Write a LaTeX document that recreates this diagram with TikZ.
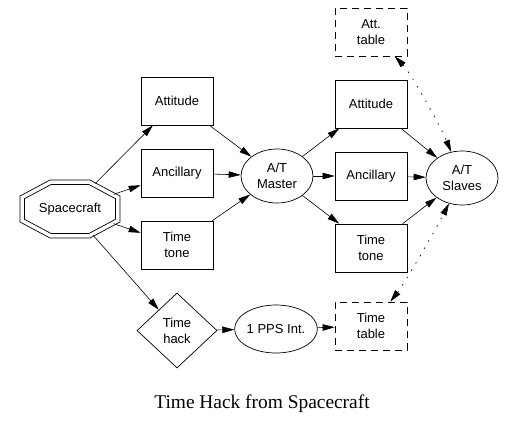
\documentclass[tikz,border=0pt]{standalone}
\usepackage{fontspec}
\setmainfont{Liberation Serif}
\newfontfamily\arialf{Liberation Sans}
\usetikzlibrary{shapes.geometric,arrows.meta}
\begin{document}
\begin{tikzpicture}[x=1pt,y=-1pt,
  lbl/.style={font=\arialf\fontsize{13}{16}\selectfont, align=center, inner sep=0pt, line width=0.7pt},
  box/.style={lbl, draw, minimum width=72pt, minimum height=48pt},
  dbox/.style={box, dash pattern=on 7pt off 5pt},
  oval/.style={lbl, draw, ellipse, minimum width=72pt, minimum height=54pt},
  dia/.style={lbl, draw, diamond, minimum width=80pt, minimum height=75pt},
  octo/.style={lbl, ellipse, minimum width=100pt, minimum height=58pt},
  edge/.style={-{Triangle[length=12pt,width=6.5pt]}, line width=0.6pt},
  dedge/.style={{Triangle[length=12pt,width=6.5pt]}-{Triangle[length=12pt,width=6.5pt]}, line width=0.7pt, dash pattern=on 1.5pt off 7pt}
]
\useasboundingbox (0,0) rectangle (516,425);

\node[dbox] (atttab) at (371,32) {Att.\\table};
\node[box] (att1) at (177,101) {Attitude};
\node[box] (anc1) at (177,173) {Ancillary};
\node[box] (tt1) at (177,245) {Time\\tone};
\node[octo] (sc) at (70,209) {Spacecraft};
\node[oval] (master) at (277,176) {A/T\\Master};
\node[box] (att2) at (371,104) {Attitude};
\node[box] (anc2) at (371,176) {Ancillary};
\node[box] (tt2) at (371,248) {Time\\tone};
\node[oval] (slaves) at (462,178) {A/T\\Slaves};
\node[dbox] (timetab) at (371,326) {Time\\table};
\node[dia] (hack) at (177,330.5) {Time\\hack};
\node[oval, minimum width=76pt, minimum height=48pt] (pps) at (276,329) {1 PPS Int.};

% double octagon
\draw[line width=0.7pt] ([shift={(-20,-29)}]sc.center) -- ([shift={(20,-29)}]sc.center) -- ([shift={(50,-13)}]sc.center) -- ([shift={(50,13)}]sc.center) -- ([shift={(20,29)}]sc.center) -- ([shift={(-20,29)}]sc.center) -- ([shift={(-50,13)}]sc.center) -- ([shift={(-50,-13)}]sc.center) -- cycle;
\draw[line width=0.7pt] ([shift={(-18.9,-24.5)}]sc.center) -- ([shift={(18.9,-24.5)}]sc.center) -- ([shift={(45.5,-10.3)}]sc.center) -- ([shift={(45.5,10.3)}]sc.center) -- ([shift={(18.9,24.5)}]sc.center) -- ([shift={(-18.9,24.5)}]sc.center) -- ([shift={(-45.5,10.3)}]sc.center) -- ([shift={(-45.5,-10.3)}]sc.center) -- cycle;

\draw[edge] (sc) -- (att1);
\draw[edge] (sc) -- (anc1);
\draw[edge] (sc) -- (tt1);
\draw[edge] (sc) -- (hack);
\draw[edge] (att1) -- (master);
\draw[edge] (anc1) -- (master);
\draw[edge] (tt1) -- (master);
\draw[edge] (master) -- (att2);
\draw[edge] (master) -- (anc2);
\draw[edge] (master) -- (tt2);
\draw[edge] (att2) -- (slaves);
\draw[edge] (anc2) -- (slaves);
\draw[edge] (tt2) -- (slaves);
\draw[edge] (hack) -- (pps);
\draw[edge] (pps) -- (timetab);
\draw[dedge] (atttab) .. controls (410,72) and (440,125) .. (slaves);
\draw[dedge] (timetab) .. controls (405,283) and (438,225) .. (slaves);

\node[font=\fontsize{19.4}{23}\selectfont, inner sep=0pt] (cap) at (262,404) {Time Hack from Spacecraft};
\end{tikzpicture}
\end{document}
